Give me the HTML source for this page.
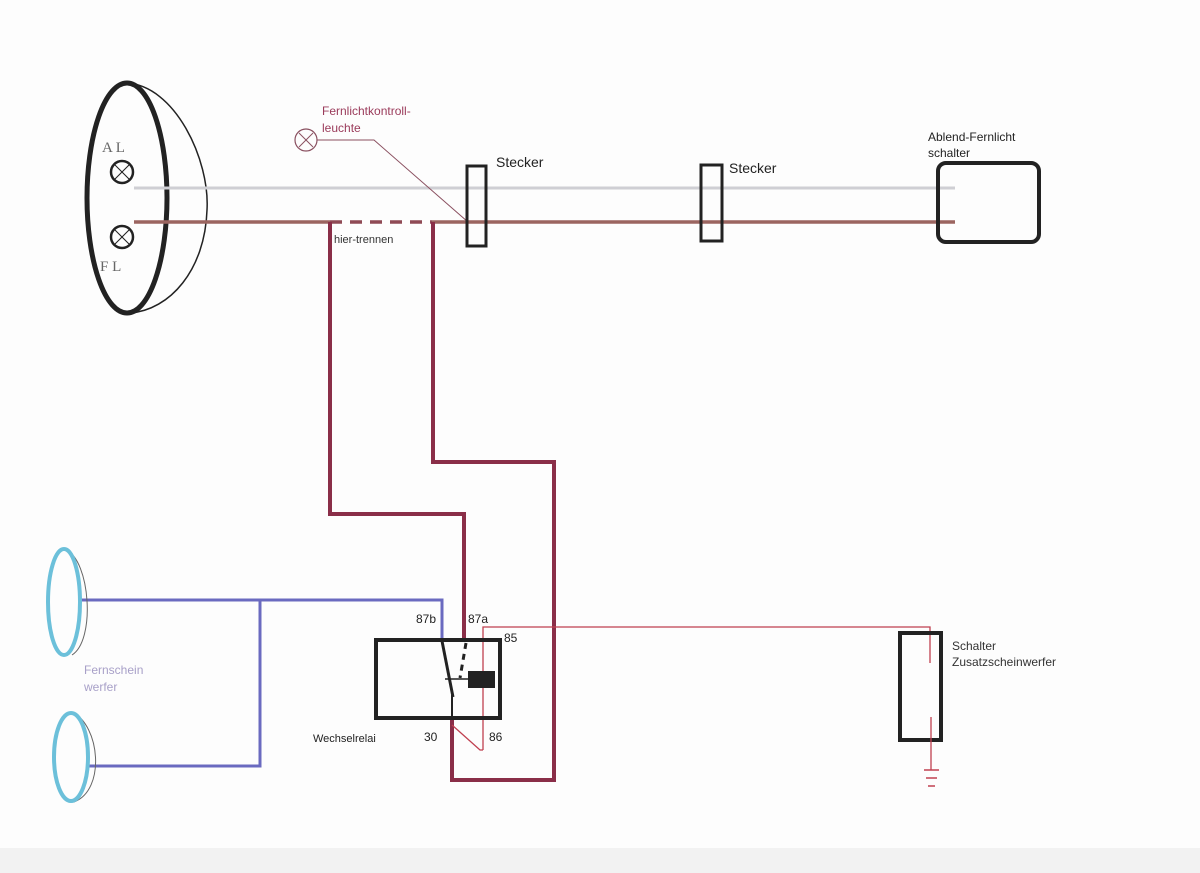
<!DOCTYPE html>
<html><head><meta charset="utf-8"><style>
html,body{margin:0;padding:0;background:#fff;width:1200px;height:873px;overflow:hidden}
svg text{font-family:"Liberation Sans",sans-serif}
</style></head><body>
<svg width="1200" height="873" viewBox="0 0 1200 873" xmlns="http://www.w3.org/2000/svg">
<rect width="1200" height="873" fill="#fdfdfd"/>
<!-- headlamp -->
<path d="M126 83 C175 85 210 160 207 210 C205 270 170 310 130 313" fill="none" stroke="#222" stroke-width="1.5"/>
<ellipse cx="127" cy="198" rx="40" ry="115" fill="none" stroke="#222" stroke-width="5"/>
<g fill="none" stroke="#222" stroke-width="2.5">
<circle cx="122" cy="172" r="11"/><circle cx="122" cy="237" r="11"/></g>
<g stroke="#222" stroke-width="1"><line x1="114" y1="164" x2="130" y2="180"/><line x1="130" y1="164" x2="114" y2="180"/>
<line x1="114" y1="229" x2="130" y2="245"/><line x1="130" y1="229" x2="114" y2="245"/></g>
<text x="102" y="152" font-family="Liberation Serif" font-size="15" fill="#666" style="font-family:'Liberation Serif',serif">A L</text>
<text x="100" y="271" font-size="15" fill="#666" style="font-family:'Liberation Serif',serif">F L</text>
<!-- main wires -->
<line x1="134" y1="188" x2="955" y2="188" stroke="#cfcfd4" stroke-width="3"/>
<line x1="134" y1="222" x2="330" y2="222" stroke="#9b6560" stroke-width="3.5"/>
<line x1="330" y1="222" x2="432" y2="222" stroke="#8f4a55" stroke-width="3.5" stroke-dasharray="12,8"/>
<line x1="432" y1="222" x2="955" y2="222" stroke="#9b6560" stroke-width="3.5"/>
<!-- control lamp -->
<circle cx="306" cy="140" r="11" fill="none" stroke="#8a5060" stroke-width="1.2"/>
<line x1="299" y1="133" x2="313" y2="147" stroke="#8a5060"/><line x1="313" y1="133" x2="299" y2="147" stroke="#8a5060"/>
<polyline points="317,140 374,140 468,222" fill="none" stroke="#8a5060" stroke-width="1"/>
<text x="322" y="115" font-size="12" fill="#9a3a5a">Fernlichtkontroll-</text>
<text x="322" y="132" font-size="12" fill="#9a3a5a">leuchte</text>
<text x="334" y="243" font-size="11" fill="#333">hier-trennen</text>
<!-- stecker -->
<rect x="467" y="166" width="19" height="80" fill="none" stroke="#222" stroke-width="3"/>
<text x="496" y="167" font-size="14" fill="#222">Stecker</text>
<rect x="701" y="165" width="21" height="76" fill="none" stroke="#222" stroke-width="3"/>
<text x="729" y="173" font-size="14" fill="#222">Stecker</text>
<rect x="938" y="163" width="101" height="79" rx="8" fill="none" stroke="#222" stroke-width="4"/>
<text x="928" y="141" font-size="12" fill="#222">Ablend-Fernlicht</text>
<text x="928" y="157" font-size="12" fill="#222">schalter</text>
<!-- red wires -->
<polyline points="330,222 330,514 464,514 464,640" fill="none" stroke="#8a2e48" stroke-width="4"/>
<polyline points="433,222 433,462 554,462 554,780 452,780 452,718" fill="none" stroke="#8a2e48" stroke-width="4"/>
<!-- blue wires -->
<polyline points="80,600 442,600 442,640" fill="none" stroke="#6a6ac0" stroke-width="3"/>
<polyline points="260,600 260,766 88,766" fill="none" stroke="#6a6ac0" stroke-width="3"/>
<!-- thin red -->
<polyline points="483,750 483,627 930,627 930,663" fill="none" stroke="#c04050" stroke-width="1.3"/>
<polyline points="452,725 480,750 483,750" fill="none" stroke="#c04050" stroke-width="1.3"/>
<!-- relay -->
<rect x="376" y="640" width="124" height="78" fill="none" stroke="#222" stroke-width="4"/>
<line x1="442" y1="641" x2="453" y2="697" stroke="#222" stroke-width="3"/>
<line x1="466" y1="643" x2="460" y2="678" stroke="#222" stroke-width="3" stroke-dasharray="6,5"/>
<line x1="445" y1="679" x2="470" y2="679" stroke="#222" stroke-width="1.5"/>
<rect x="468" y="671" width="27" height="17" fill="#222"/>
<line x1="452" y1="695" x2="452" y2="718" stroke="#222" stroke-width="2"/>
<text x="416" y="623" font-size="12" fill="#222">87b</text>
<text x="468" y="623" font-size="12" fill="#222">87a</text>
<text x="504" y="642" font-size="12" fill="#222">85</text>
<text x="424" y="741" font-size="12" fill="#222">30</text>
<text x="489" y="741" font-size="12" fill="#222">86</text>
<text x="313" y="742" font-size="11" fill="#222">Wechselrelai</text>
<!-- switch -->
<rect x="900" y="633" width="41" height="107" fill="none" stroke="#222" stroke-width="4"/>
<polyline points="931,717 931,770" fill="none" stroke="#c04050" stroke-width="1.3"/>
<line x1="924" y1="770" x2="939" y2="770" stroke="#c04050" stroke-width="1.5"/>
<line x1="926" y1="778" x2="937" y2="778" stroke="#c04050" stroke-width="1.5"/>
<line x1="928" y1="786" x2="935" y2="786" stroke="#c04050" stroke-width="1.5"/>
<text x="952" y="650" font-size="12" fill="#333">Schalter</text>
<text x="952" y="666" font-size="12" fill="#333">Zusatzscheinwerfer</text>
<!-- fernscheinwerfer -->
<path d="M66 550 C90 560 96 640 72 655" fill="none" stroke="#666" stroke-width="1"/>
<ellipse cx="64" cy="602" rx="16" ry="53" fill="none" stroke="#6cc0da" stroke-width="4"/>
<path d="M72 712 C100 725 106 790 74 802" fill="none" stroke="#666" stroke-width="1"/>
<ellipse cx="71" cy="757" rx="17" ry="44" fill="none" stroke="#6cc0da" stroke-width="4"/>
<text x="84" y="674" font-size="12" fill="#a8a0c8">Fernschein</text>
<text x="84" y="691" font-size="12" fill="#a8a0c8">werfer</text>
<rect x="0" y="848" width="1200" height="25" fill="#f2f2f2"/>
</svg>
</body></html>
